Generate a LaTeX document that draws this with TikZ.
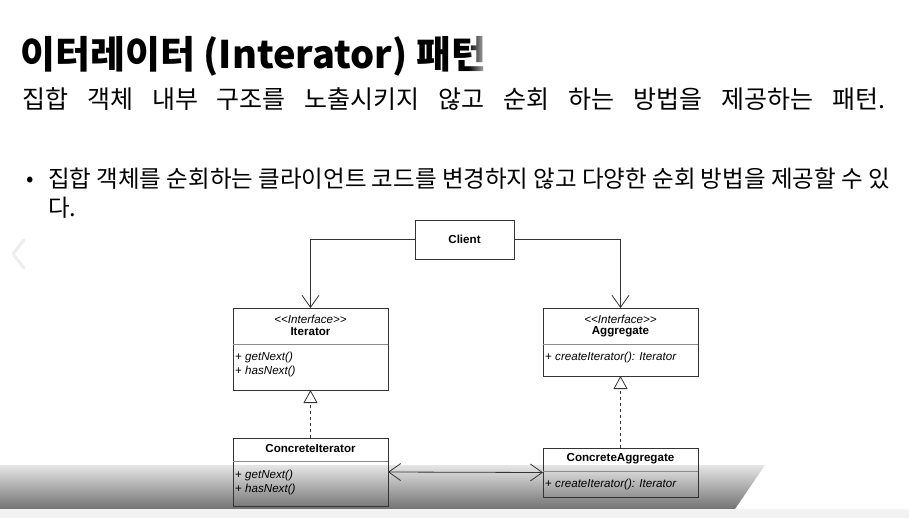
\documentclass[tikz,border=0pt]{standalone}
\usepackage{fontspec}
\setmainfont{Liberation Sans}
\newfontfamily\kr{Noto Sans CJK KR}
\usetikzlibrary{arrows.meta,fadings}
\begin{document}
\begin{tikzpicture}[x=1pt,y=-1pt,
  umlbox/.style={draw=black!80, line width=0.8pt, inner sep=0pt, outer sep=0pt, anchor=north west},
  divline/.style={draw=black!45, line width=0.6pt},
  dtxt/.style={inner sep=0pt, font=\fontsize{11.6}{13}\selectfont},
  conn/.style={draw=black!80, line width=0.8pt},
  vhead/.tip={Straight Barb[length=12pt,width=17pt]},
  realize/.style={-{Triangle[open,length=13pt,width=14pt,fill=white]}},
  dashline/.style={dash pattern=on 3pt off 3pt}
]
\useasboundingbox (0,0) rectangle (909,518);
\fill[white] (0,0) rectangle (909,518);

% bottom overlay band
\shade[top color=black!10, bottom color=black!55] (0,465) -- (765,465) -- (735,509) -- (0,509) -- cycle;
\fill[black!5] (0,509) rectangle (909,518);

% faint slide chevron
\draw[black!7, line width=3pt, line cap=round, line join=round] (24,240) -- (13,254) -- (24,268);

% texts
\node[anchor=base west, inner sep=0pt, font=\kr\bfseries\fontsize{38}{42}\selectfont] (title) at (20,69) {이터레이터 (Interator) 패턴};
\fill[white, path fading=west] (468,34) rectangle (492,76);
\node[anchor=base west, inner sep=0pt, font=\kr\fontsize{25}{30}\selectfont] (sub) at (22,109) {\makebox[863pt][s]{집합 객체 내부 구조를 노출시키지 않고 순회 하는 방법을 제공하는 패턴.}};
\node[anchor=base west, inner sep=0pt, font=\kr\fontsize{22}{26}\selectfont] (bul) at (26,187) {•};
\node[anchor=base west, inner sep=0pt, font=\kr\fontsize{23.5}{28}\selectfont] (l1) at (48,188) {집합 객체를 순회하는 클라이언트 코드를 변경하지 않고 다양한 순회 방법을 제공할 수 있};
\node[anchor=base west, inner sep=0pt, font=\kr\fontsize{23.5}{28}\selectfont] (l2) at (48,217) {다.};

% class boxes
\node[umlbox, minimum width=99pt, minimum height=39pt] (client) at (415,220) {};
\node[dtxt, font=\fontsize{11.6}{13}\selectfont\bfseries] at (client.center) {Client};

\node[umlbox, minimum width=155pt, minimum height=82pt] (it) at (233,308) {};
\draw[divline] (233.4,344) -- (387.6,344);
\node[dtxt, font=\fontsize{11.6}{13}\selectfont\itshape] at (310.5,319) {<\kern0pt<Interface>\kern0pt>};
\node[dtxt, font=\fontsize{11.6}{13}\selectfont\bfseries] at (310.5,332) {Iterator};
\node[dtxt, anchor=west] at (235,357) {+ \textit{getNext()}};
\node[dtxt, anchor=west] at (235,371) {+ \textit{hasNext()}};

\node[umlbox, minimum width=155pt, minimum height=68pt] (ag) at (543,308) {};
\draw[divline] (543.4,344) -- (697.6,344);
\node[dtxt, font=\fontsize{11.6}{13}\selectfont\itshape] at (620.5,319) {<\kern0pt<Interface>\kern0pt>};
\node[dtxt, font=\fontsize{11.6}{13}\selectfont\bfseries] at (620.5,332) {Aggregate};
\node[dtxt, anchor=west] at (545,357) {+ \textit{createIterator(): Iterator}};

\node[umlbox, minimum width=155pt, minimum height=68pt] (cit) at (233,438) {};
\draw[divline] (233.4,461) -- (387.6,461);
\node[dtxt, font=\fontsize{11.6}{13}\selectfont\bfseries] at (310.5,449) {ConcreteIterator};
\node[dtxt, anchor=west] at (235,475) {+ \textit{getNext()}};
\node[dtxt, anchor=west] at (235,489) {+ \textit{hasNext()}};

\node[umlbox, minimum width=155pt, minimum height=49pt] (cag) at (543,448) {};
\draw[divline] (543.4,471) -- (697.6,471);
\node[dtxt, font=\fontsize{11.6}{13}\selectfont\bfseries] at (620.5,459) {ConcreteAggregate};
\node[dtxt, anchor=west] at (545,484) {+ \textit{createIterator(): Iterator}};

% connectors
\draw[conn, -{vhead}] (client.west) -| (it.north);
\draw[conn, -{vhead}] (client.east) -| (ag.north);
\draw[conn, dashline, realize] (cit.north) -- (it.south);
\draw[conn, dashline, realize] (cag.north) -- (ag.south);
\draw[conn, {vhead}-{vhead}] (cit.east) -- (cag.west);
\end{tikzpicture}
\end{document}
